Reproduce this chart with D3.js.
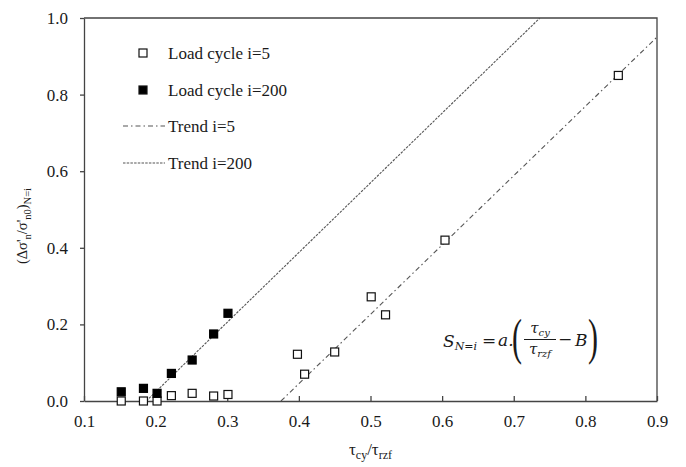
<!DOCTYPE html>
<html>
<head>
<meta charset="utf-8">
<script src="https://cdn.jsdelivr.net/npm/d3@7"></script>
<style>
  html, body { margin: 0; padding: 0; background: #fff; }
  svg { display: block; font-family: "Liberation Serif", "Times New Roman", serif; }
</style>
</head>
<body>
<svg id="chart" width="686" height="467"></svg>
<script>
// Load cycle i=5 (open squares)
const ratioI5 = [0.152, 0.183, 0.202, 0.222, 0.251, 0.281, 0.301, 0.398, 0.408, 0.450, 0.501, 0.521, 0.604, 0.846];
const stressI5 = [0.000, 0.000, 0.000, 0.014, 0.020, 0.013, 0.017, 0.122, 0.070, 0.128, 0.272, 0.225, 0.420, 0.850];

// Load cycle i=200 (filled squares)
const ratioI200 = [0.152, 0.183, 0.202, 0.222, 0.251, 0.281, 0.301];
const stressI200 = [0.024, 0.033, 0.020, 0.072, 0.107, 0.175, 0.229];

// Trend lines S = a.(x - B)
const trendNames = ["Trend i=5", "Trend i=200"];
const trendA = [1.81, 1.82];
const trendB = [0.375, 0.187];

const xTicks = [0.1, 0.2, 0.3, 0.4, 0.5, 0.6, 0.7, 0.8, 0.9];
const yTicks = [0.0, 0.2, 0.4, 0.6, 0.8, 1.0];

const svg = d3.select("#chart");
const axisColor = "#444";
const textColor = "#1a1a1a";

const x = d3.scaleLinear().domain([0.1, 0.9]).range([84, 657]);
const y = d3.scaleLinear().domain([0, 1]).range([401, 18]);

svg.append("defs").append("clipPath").attr("id", "plotClip")
  .append("rect")
  .attr("x", x(0.1)).attr("y", y(1))
  .attr("width", x(0.9) - x(0.1)).attr("height", y(0) - y(1));

// Axes
const gx = svg.append("g")
  .attr("transform", `translate(0,${y(0)})`)
  .call(d3.axisBottom(x).tickValues(xTicks).tickFormat(d3.format(".1f"))
    .tickSizeInner(-5).tickSizeOuter(0).tickPadding(14));
const gy = svg.append("g")
  .attr("transform", `translate(${x(0.1)},0)`)
  .call(d3.axisLeft(y).tickValues(yTicks).tickFormat(d3.format(".1f"))
    .tickSizeInner(4).tickSizeOuter(0).tickPadding(12));

[gx, gy].forEach(g => {
  g.select(".domain").attr("stroke", axisColor).attr("stroke-width", 1.3);
  g.selectAll(".tick line").attr("stroke", axisColor).attr("stroke-width", 1.3);
  g.selectAll(".tick text").attr("fill", textColor)
    .style("font-family", '"Liberation Serif", serif').style("font-size", "17px");
});

// Frame top and right
svg.append("path")
  .attr("d", `M${x(0.1)},${y(1)}H${x(0.9)}V${y(0)}`)
  .attr("fill", "none").attr("stroke", axisColor).attr("stroke-width", 1.3);

// Trend lines
const dashes = ["5,3,1.5,3", "2.5,1.2"];
const plot = svg.append("g").attr("clip-path", "url(#plotClip)");
trendA.forEach((a, i) => {
  const b = trendB[i];
  const xEnd = Math.min(0.9, b + 1 / a);
  const pts = [[b, 0], [xEnd, a * (xEnd - b)]];
  plot.append("path")
    .attr("d", d3.line().x(d => x(d[0])).y(d => y(d[1]))(pts))
    .attr("fill", "none").attr("stroke", "#555").attr("stroke-width", 1.1)
    .attr("stroke-dasharray", dashes[i]);
});

// Markers
const sq = 8;
svg.append("g").selectAll("rect").data(ratioI5.map((v, i) => [v, stressI5[i]]))
  .join("rect")
  .attr("x", d => x(d[0]) - sq / 2).attr("y", d => y(d[1]) - sq / 2)
  .attr("width", sq).attr("height", sq)
  .attr("fill", "#fff").attr("stroke", "#111").attr("stroke-width", 1.2);
svg.append("g").selectAll("rect").data(ratioI200.map((v, i) => [v, stressI200[i]]))
  .join("rect")
  .attr("x", d => x(d[0]) - sq / 2).attr("y", d => y(d[1]) - sq / 2)
  .attr("width", sq).attr("height", sq)
  .attr("fill", "#000").attr("stroke", "#000").attr("stroke-width", 1.2);

// Legend
const lg = svg.append("g");
const legendLabels = ["Load cycle i=5", "Load cycle i=200", trendNames[0], trendNames[1]];
const legendY = [53, 90, 126, 163];
legendLabels.forEach((t, i) => {
  const ly = legendY[i];
  if (i < 2) {
    lg.append("rect").attr("x", 143 - sq / 2).attr("y", ly - sq / 2)
      .attr("width", sq).attr("height", sq)
      .attr("fill", i === 0 ? "#fff" : "#000").attr("stroke", "#111").attr("stroke-width", 1.2);
  } else {
    lg.append("line").attr("x1", 123).attr("x2", 165).attr("y1", ly).attr("y2", ly)
      .attr("stroke", "#555").attr("stroke-width", 1.1)
      .attr("stroke-dasharray", dashes[i - 2]);
  }
  lg.append("text").attr("x", 168).attr("y", ly + 6)
    .attr("fill", textColor).style("font-size", "17px").text(t);
});

// Axis titles
const xt = svg.append("text").attr("x", x(0.5)).attr("y", 455)
  .attr("text-anchor", "middle").attr("fill", textColor).style("font-size", "17px");
xt.append("tspan").text("τ");
xt.append("tspan").attr("dy", 4).style("font-size", "12px").text("cy");
xt.append("tspan").attr("dy", -4).text("/τ");
xt.append("tspan").attr("dy", 4).style("font-size", "12px").text("rzf");

const yt = svg.append("text").attr("transform", "translate(27,226) rotate(-90)")
  .attr("text-anchor", "middle").attr("fill", textColor).style("font-size", "14.5px");
yt.append("tspan").text("(Δσ'");
yt.append("tspan").attr("dy", 4).style("font-size", "10.5px").text("n");
yt.append("tspan").attr("dy", -4).text("/σ'");
yt.append("tspan").attr("dy", 4).style("font-size", "10.5px").text("n0");
yt.append("tspan").attr("dy", -4).text(")");
yt.append("tspan").attr("dy", 4).style("font-size", "10.5px").text("N=i");

// Equation
const eq = svg.append("g").attr("fill", textColor)
  .style("font-family", '"DejaVu Serif", "Liberation Serif", serif').style("font-style", "italic");
const e1 = eq.append("text").attr("x", 443).attr("y", 347).style("font-size", "17px");
e1.append("tspan").text("S");
e1.append("tspan").attr("dy", 3).style("font-size", "11px").text("N=i");
eq.append("text").attr("x", 482).attr("y", 346).style("font-size", "17px").style("font-style", "normal").text("=");
eq.append("text").attr("x", 498).attr("y", 346).style("font-size", "17px").text("a.");
eq.append("text").attr("transform", "translate(512,354) scale(0.6,1)")
  .style("font-size", "50px").style("font-style", "normal").style("font-weight", "200")
  .style("font-family", '"Liberation Serif", serif').text("(");
eq.append("line").attr("x1", 524).attr("x2", 556).attr("y1", 339.5).attr("y2", 339.5)
  .attr("stroke", textColor).attr("stroke-width", 1);
const num = eq.append("text").attr("x", 540).attr("y", 333).attr("text-anchor", "middle").style("font-size", "15px");
num.append("tspan").text("τ");
num.append("tspan").attr("dy", 3).style("font-size", "10px").text("cy");
const den = eq.append("text").attr("x", 540).attr("y", 354).attr("text-anchor", "middle").style("font-size", "15px");
den.append("tspan").text("τ");
den.append("tspan").attr("dy", 3).style("font-size", "10px").text("rzf");
eq.append("text").attr("x", 558).attr("y", 345).style("font-size", "17px").style("font-style", "normal").text("−");
eq.append("text").attr("x", 575).attr("y", 346).style("font-size", "17px").text("B");
eq.append("text").attr("transform", "translate(588,354) scale(0.6,1)")
  .style("font-size", "50px").style("font-style", "normal").style("font-weight", "200")
  .style("font-family", '"Liberation Serif", serif').text(")");
</script>
</body>
</html>
